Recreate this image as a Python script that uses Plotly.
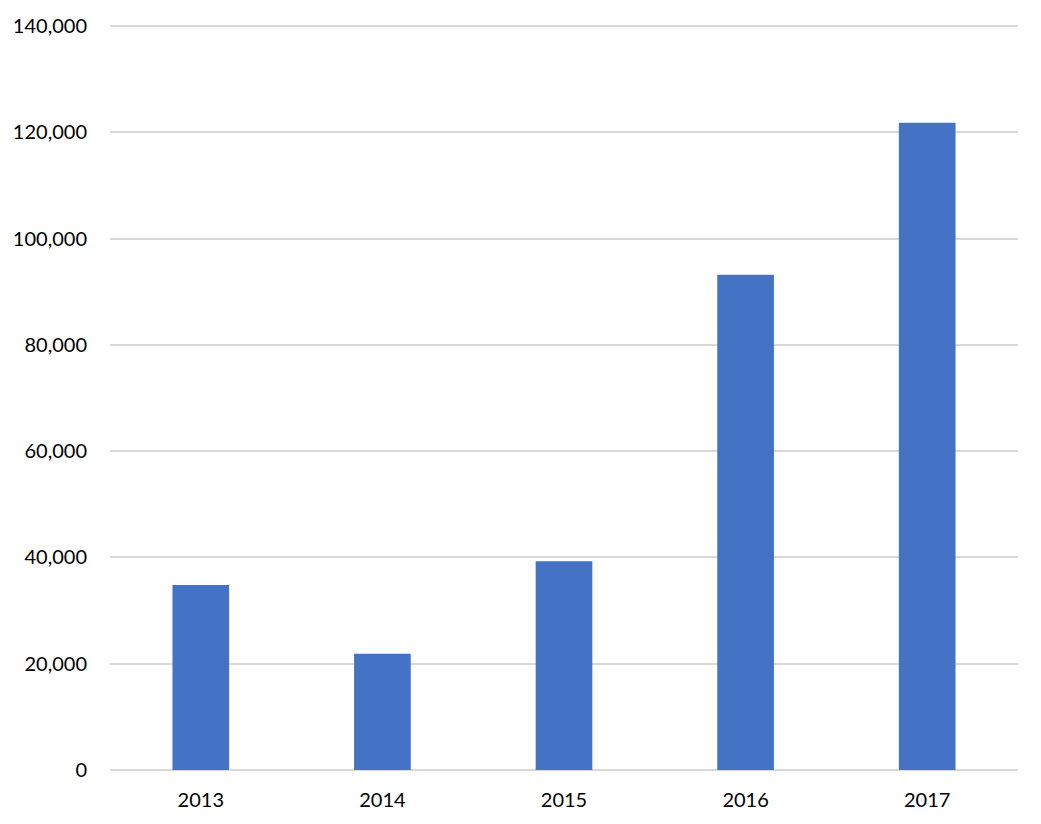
import plotly.graph_objects as go

# Values
years = ['2013', '2014', '2015', '2016', '2017']
values = [34800, 21900, 39300, 93200, 121800]

y_ticks = [0, 20000, 40000, 60000, 80000, 100000, 120000, 140000]
y_labels = ['0', '20,000', '40,000', '60,000', '80,000', '100,000', '120,000', '140,000']

bar_color = '#4472C4'
grid_color = '#D9D9D9'


def create_bar_graph():
    fig = go.Figure()

    fig.add_trace(go.Bar(
        x=years,
        y=values,
        marker=dict(color=bar_color, line=dict(width=0)),
        hoverinfo='x+y'
    ))

    # the page body adds an 8px offset, margins are shifted to make up for it
    fig.update_layout(
        width=1041,
        height=824,
        bargap=0.688,
        showlegend=False,
        font=dict(family='Lato, Open Sans, sans-serif', size=20, color='#000000'),
        paper_bgcolor='#FFFFFF',
        plot_bgcolor='#FFFFFF',
        margin={"l": 102, "r": 31, "t": 17, "b": 62},
        xaxis=dict(
            type='category',
            automargin=False,
            showgrid=False,
            showline=False,
            ticks='',
            ticklabelstandoff=16,
        ),
        yaxis=dict(
            # a touch above 140k so the top gridline is still drawn
            range=[0, 140200],
            automargin=False,
            tickmode='array',
            tickvals=y_ticks,
            ticktext=y_labels,
            showgrid=True,
            gridcolor=grid_color,
            gridwidth=1.5,
            zeroline=True,
            zerolinecolor=grid_color,
            zerolinewidth=1.5,
            showline=False,
            ticks='',
            ticklabelstandoff=22,
        ),
    )
    return fig


def main():
    fig = create_bar_graph()
    fig.write_html("out.html")


if __name__ == '__main__':
    main()
